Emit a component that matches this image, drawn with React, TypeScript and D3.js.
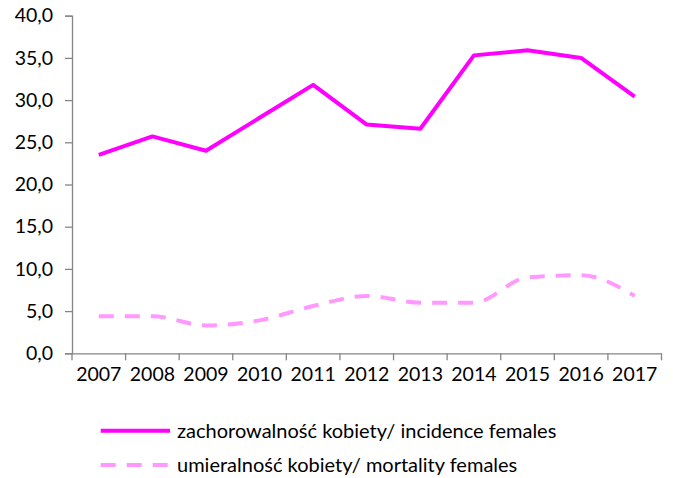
import React, { useEffect, useRef } from "react";
import * as d3 from "d3";

const years = ["2007", "2008", "2009", "2010", "2011", "2012", "2013", "2014", "2015", "2016", "2017"];
const incidence = [23.5, 25.7, 24.0, 27.9, 31.8, 27.1, 26.6, 35.3, 35.9, 35.0, 30.4];
const mortality = [4.4, 4.4, 3.3, 3.9, 5.6, 6.8, 6.0, 6.0, 9.0, 9.25, 6.8];
const yTicks = [0, 5, 10, 15, 20, 25, 30, 35, 40];
const legendLabels = [
  "zachorowalność kobiety/ incidence females",
  "umieralność kobiety/ mortality females",
];

export default function App() {
  const ref = useRef<SVGSVGElement>(null);

  useEffect(() => {
    const svg = d3.select(ref.current);
    svg.selectAll("*").remove();
    const width = 673;
    const height = 478;
    const margin = { left: 72, right: 11.5, top: 15.7, bottom: 124.7 };
    const font = "Lato, 'Open Sans', sans-serif";
    const axisColor = "#868686";

    const x = d3
      .scaleBand()
      .domain(years)
      .range([margin.left, width - margin.right]);
    const y = d3
      .scaleLinear()
      .domain([0, 40])
      .range([height - margin.bottom, margin.top]);

    // y axis
    const gy = svg
      .append("g")
      .attr("transform", `translate(${margin.left},0)`)
      .call(
        d3
          .axisLeft(y)
          .tickValues(yTicks)
          .tickSize(7)
          .tickPadding(12)
          .tickFormat((d) => d3.format(".1f")(d as number).replace(".", ","))
      );
    gy.select(".domain").attr("stroke", axisColor).attr("stroke-width", 1.3);
    gy.selectAll(".tick line").attr("stroke", axisColor).attr("stroke-width", 1.3);
    gy.selectAll(".tick text")
      .attr("fill", "#000")
      .style("font-family", font)
      .style("font-size", "19.5px");

    // x axis
    const gx = svg
      .append("g")
      .attr("transform", `translate(0,${height - margin.bottom})`)
      .call(d3.axisBottom(x).tickSize(0).tickPadding(14).tickSizeOuter(0));
    gx.select(".domain").attr("stroke", axisColor).attr("stroke-width", 1.3);
    gx.selectAll(".tick text")
      .attr("fill", "#000")
      .style("font-family", font)
      .style("font-size", "19.5px");
    // category separators
    const bounds = years.map((d) => x(d) as number).concat([width - margin.right]);
    gx.selectAll(".sep")
      .data(bounds)
      .enter()
      .append("line")
      .attr("x1", (d) => d)
      .attr("x2", (d) => d)
      .attr("y1", 0)
      .attr("y2", 7)
      .attr("stroke", axisColor)
      .attr("stroke-width", 1.3);

    const cx = (i: number) => (x(years[i]) as number) + x.bandwidth() / 2;

    const lineSolid = d3
      .line<number>()
      .x((_, i) => cx(i))
      .y((d) => y(d));
    const lineSmooth = d3
      .line<number>()
      .x((_, i) => cx(i))
      .y((d) => y(d))
      .curve(d3.curveMonotoneX);

    svg
      .append("path")
      .datum(mortality)
      .attr("d", lineSmooth)
      .attr("fill", "none")
      .attr("stroke", "#FF99FF")
      .attr("stroke-width", 4)
      .attr("stroke-dasharray", "15 11");

    svg
      .append("path")
      .datum(incidence)
      .attr("d", lineSolid)
      .attr("fill", "none")
      .attr("stroke", "#FF00FF")
      .attr("stroke-width", 4)
      .attr("stroke-linejoin", "round");

    // legend
    const legend = svg.append("g");
    const styles = [
      { color: "#FF00FF", dash: null },
      { color: "#FF99FF", dash: "15 11" },
    ];
    legendLabels.forEach((label, i) => {
      const ly = 430.7 + i * 34.3;
      legend
        .append("line")
        .attr("x1", 100.7)
        .attr("x2", 170)
        .attr("y1", ly)
        .attr("y2", ly)
        .attr("stroke", styles[i].color)
        .attr("stroke-width", 4)
        .attr("stroke-dasharray", styles[i].dash);
      legend
        .append("text")
        .attr("x", 177)
        .attr("y", ly)
        .attr("dy", "0.35em")
        .style("font-family", font)
        .style("font-size", "20px")
        .attr("fill", "#000")
        .text(label);
    });
  }, []);

  return (
    <svg
      ref={ref}
      width={673}
      height={478}
      style={{ position: "absolute", left: 0, top: 0, background: "#fff" }}
    />
  );
}
